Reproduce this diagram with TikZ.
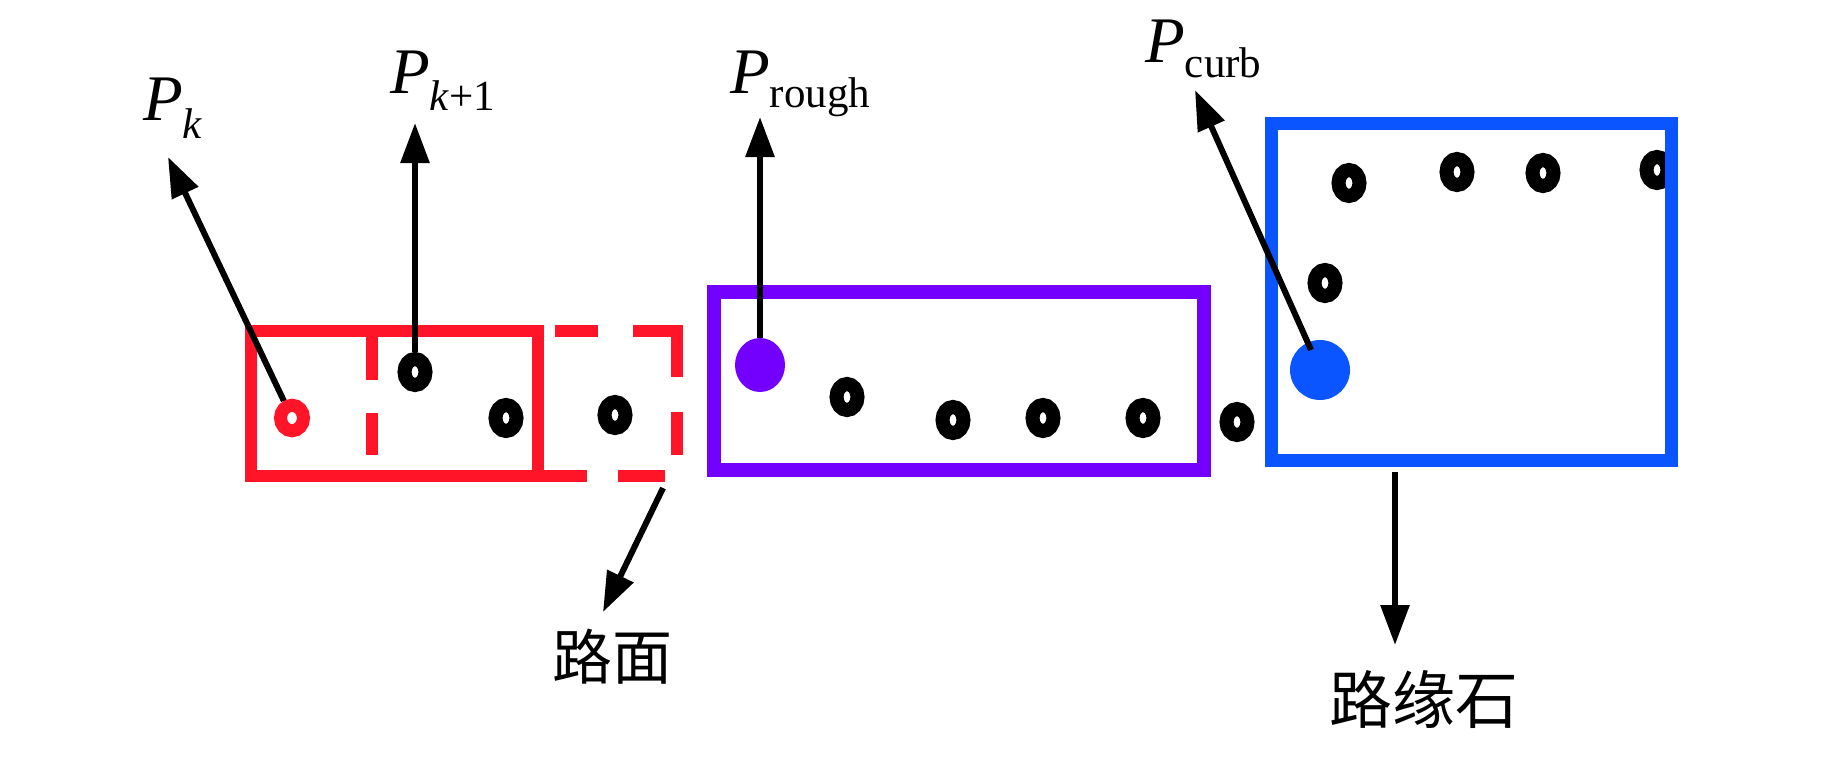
\documentclass[tikz,border=0pt]{standalone}
\usepackage{fontspec}
\setmainfont{Liberation Serif}
\newfontfamily\cjk{Noto Sans CJK SC}
\usetikzlibrary{arrows.meta,shapes.geometric}
\definecolor{myred}{RGB}{255,20,40}
\definecolor{mypurple}{RGB}{115,0,255}
\definecolor{myblue}{RGB}{10,85,255}
\newcommand{\lsub}[2]{\raisebox{-#1}{\fontsize{43}{43}\selectfont #2}}
\begin{document}
\begin{tikzpicture}[x=1pt,y=-1pt,
  ring/.style={ellipse, draw=black, line width=14pt, minimum width=21pt, minimum height=26pt, inner sep=0pt},
  redline/.style={draw=myred, line width=12pt},
  arr/.style={-{Triangle[length=40pt,width=28pt]}, line width=6pt, draw=black},
  lbl/.style={anchor=base west, inner sep=0pt, font=\fontsize{65}{70}\selectfont},
  cjklbl/.style={anchor=base, inner sep=0pt}
]
\useasboundingbox (0,0) rectangle (1843,756);
\fill[white] (0,0) rectangle (1843,756);

% red boxes
\draw[redline] (251,331) rectangle (538,476);
\draw[redline] (538,476) -- (587,476);
\draw[redline] (555,331) -- (598,331);
\draw[redline, line join=miter] (633,331) -- (677,331) -- (677,377);
\draw[redline] (677,412) -- (677,455);
\draw[redline] (618,476) -- (665,476);
\draw[redline] (372,337) -- (372,380);
\draw[redline] (372,413) -- (372,455);

% purple box
\draw[draw=mypurple, line width=14pt] (714,292) rectangle (1204,470);

% points
\node[ring, draw=myred, line width=13pt, minimum width=23pt, minimum height=25.5pt] (pk) at (292,418) {};
\node[ring] (b1) at (415,372) {};
\node[ring] (b2) at (506,418) {};
\node[ring] (b3) at (615,415) {};
\node[ellipse, fill=mypurple, minimum width=50pt, minimum height=54pt, inner sep=0pt] (pr) at (760,365) {};
\node[ring] (b4) at (847,397) {};
\node[ring] (b5) at (953,420) {};
\node[ring] (b6) at (1043,418) {};
\node[ring] (b7) at (1143,418) {};
\node[ring] (b8) at (1237,422) {};
\node[circle, fill=myblue, minimum size=60pt, inner sep=0pt] (pc) at (1320,370) {};
\node[ring] (c1) at (1325,283) {};
\node[ring] (c2) at (1349,183) {};
\node[ring] (c3) at (1457,172) {};
\node[ring] (c4) at (1543,173) {};
\node[ring] (c5) at (1657,170) {};

% blue box
\draw[draw=myblue, line width=13pt] (1271.5,123.5) rectangle (1671.5,460.5);

% labels
\node[lbl] (lk) at (143,120) {\textit{P}\lsub{18pt}{\textit{k}}};
\node[lbl] (lk1) at (390,93) {\textit{P}\lsub{17pt}{\textit{k}+1}};
\node[lbl] (lr) at (730,93) {\textit{P}\lsub{14pt}{rough}};
\node[lbl] (lc) at (1145,62) {\textit{P}\lsub{15pt}{curb}};
\node[cjklbl, font=\cjk\fontsize{60}{60}\selectfont] (lm) at (612,679) {路面};
\node[cjklbl, font=\cjk\fontsize{63}{63}\selectfont] (ly) at (1424,723) {路缘石};

% arrow ends
\coordinate (t1) at (168,157);
\coordinate (t2) at (415,123);
\coordinate (t3) at (760,117);
\coordinate (t4) at (1195,90);
\coordinate (s5) at (663,488);
\coordinate (t5) at (603,612);
\coordinate (s6) at (1395,472);
\coordinate (t6) at (1395,645);

% arrows
\draw[arr] (pk) -- (t1);
\draw[arr] (b1) -- (t2);
\draw[arr] (pr) -- (t3);
\draw[arr, shorten <=22pt] (pc.center) -- (t4);
\draw[arr] (s5) -- (t5);
\draw[arr] (s6) -- (t6);
\end{tikzpicture}
\end{document}
